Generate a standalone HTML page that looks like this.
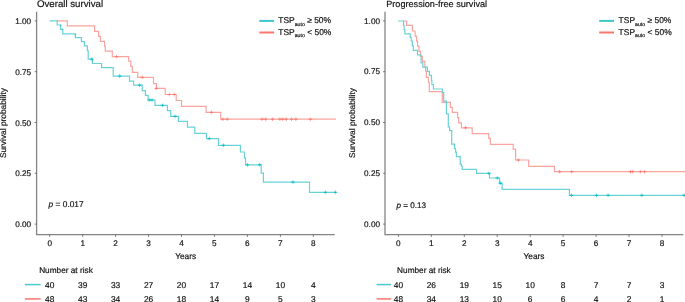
<!DOCTYPE html>
<html><head><meta charset="utf-8"><style>
html,body{margin:0;padding:0;background:#fff;width:685px;height:302px;overflow:hidden}
svg{display:block;will-change:transform}
text{text-rendering:geometricPrecision;font-family:"Liberation Sans", sans-serif;fill:#111;stroke:#111;stroke-width:0.18px}
</style></head><body>
<svg width="685" height="302" viewBox="0 0 685 302">
<path d="M56.6,20.9 H67.3 V25.8 H94.6 V31.3 H98.6 V36.4 H100.4 V41.3 H104.6 V46.4 H105.3 V51.2 H112.3 V56.7 H128.7 V61.2 H130.8 V66.3 H132.3 V72.3 H137.7 V77.3 H153.5 V83.6 H156.4 V88.4 H165.2 V94.5 H176.2 V100.5 H181.5 V106.3 H206.1 V112.3 H220.7 V119.2 H335.9" fill="none" stroke="#f9a59f" stroke-width="1.2"/>
<path d="M49.5,20.9 H57.2 V25.0 H60.5 V29.4 H62.8 V33.8 H75.4 V37.7 H81.4 V41.6 H84.4 V45.9 H87.4 V50.6 H88.2 V59.2 H92.4 V63.5 H101.6 V67.6 H113.2 V76.1 H129.5 V81.2 H133.6 V85.2 H142.2 V90.7 H145.4 V95.4 H148.1 V100.0 H155.0 V105.3 H167.4 V110.6 H170.7 V116.4 H178.4 V121.3 H187.5 V127.2 H194.8 V133.4 H206.4 V138.6 H218.5 V145.3 H240.4 V152.0 H244.5 V158.2 H245.5 V164.8 H261.2 V173.2 H263.4 V182.1 H309.5 V192.3 H335.5" fill="none" stroke="#6ad2d6" stroke-width="1.2"/>
<path d="M403.0,21.0 H406.6 V25.4 H412.4 V31.0 H415.1 V36.1 H416.6 V41.2 H417.6 V46.2 H419.0 V51.4 H420.4 V56.4 H422.3 V61.4 H424.9 V67.0 H425.6 V71.4 H426.4 V77.3 H428.5 V82.5 H429.3 V91.6 H442.3 V102.3 H450.4 V107.4 H452.3 V112.4 H457.6 V117.6 H458.7 V122.8 H461.4 V127.8 H472.2 V133.6 H488.7 V138.4 H490.3 V144.3 H513.2 V149.2 H515.6 V160.0 H528.7 V166.4 H554.5 V171.7 H686" fill="none" stroke="#f9a59f" stroke-width="1.2"/>
<path d="M398.0,21.0 H403.6 V25.3 H404.1 V29.6 H404.9 V33.9 H410.2 V37.3 H411.2 V41.0 H412.3 V45.8 H413.3 V50.3 H417.5 V54.8 H421.1 V62.8 H422.8 V67.2 H427.4 V71.4 H429.4 V75.4 H431.5 V80.4 H431.9 V84.5 H433.4 V89.0 H442.4 V92.4 H443.7 V101.2 H446.4 V113.9 H448.3 V126.9 H449.6 V130.6 H451.7 V144.1 H454.4 V148.3 H455.5 V152.2 H456.4 V156.7 H460.2 V164.2 H461.3 V166.2 H462.2 V169.3 H476.6 V173.3 H489.5 V178.0 H499.6 V183.2 H502.1 V189.3 H569.4 V195.3 H686" fill="none" stroke="#6ad2d6" stroke-width="1.2"/>
<path d="M90.1,59.2h3.6M117.9,76.1h3.6M137.8,85.2h3.6M147.5,100.0h3.6M150.2,100.0h3.6M160.7,105.3h3.6M173.3,116.4h3.6M207.5,138.6h3.6M221.6,145.3h3.6M245.7,164.8h3.6M257.8,164.8h3.6M291.2,182.1h3.6M323.6,192.3h3.6M333.6,192.3h3.6" fill="none" stroke="#00BFC4" stroke-width="0.95"/>
<path d="M91.9,57.4v3.6M119.7,74.3v3.6M139.6,83.4v3.6M149.3,98.2v3.6M152.0,98.2v3.6M162.5,103.5v3.6M175.1,114.6v3.6M209.3,136.8v3.6M223.4,143.5v3.6M247.5,163.0v3.6M259.6,163.0v3.6M293.0,180.3v3.6M325.4,190.5v3.6M335.4,190.5v3.6" fill="none" stroke="#00BFC4" stroke-width="0.75" stroke-opacity="0.85"/>
<path d="M114.7,56.7h3.6M140.4,77.3h3.6M154.5,88.4h3.6M167.6,94.5h3.6M172.4,94.5h3.6M209.6,112.3h3.6M221.1,119.2h3.6M225.5,119.2h3.6M260.3,119.2h3.6M263.9,119.2h3.6M270.7,119.2h3.6M278.1,119.2h3.6M280.8,119.2h3.6M284.4,119.2h3.6M289.7,119.2h3.6M294.1,119.2h3.6M308.6,119.2h3.6" fill="none" stroke="#F8766D" stroke-width="0.95"/>
<path d="M116.5,54.9v3.6M142.2,75.5v3.6M156.3,86.6v3.6M169.4,92.7v3.6M174.2,92.7v3.6M211.4,110.5v3.6M222.9,117.4v3.6M227.3,117.4v3.6M262.1,117.4v3.6M265.7,117.4v3.6M272.5,117.4v3.6M279.9,117.4v3.6M282.6,117.4v3.6M286.2,117.4v3.6M291.5,117.4v3.6M295.9,117.4v3.6M310.4,117.4v3.6" fill="none" stroke="#F8766D" stroke-width="0.75" stroke-opacity="0.85"/>
<path d="M487.1,173.3h3.6M495.5,178.0h3.6M498.5,183.2h3.6M569.7,195.3h3.6M594.7,195.3h3.6M606.3,195.3h3.6M640.0,195.3h3.6M682.2,195.3h3.6" fill="none" stroke="#00BFC4" stroke-width="0.95"/>
<path d="M488.9,171.5v3.6M497.3,176.2v3.6M500.3,181.4v3.6M571.5,193.5v3.6M596.5,193.5v3.6M608.1,193.5v3.6M641.8,193.5v3.6M684.0,193.5v3.6" fill="none" stroke="#00BFC4" stroke-width="0.75" stroke-opacity="0.85"/>
<path d="M463.7,127.8h3.6M516.6,160.0h3.6M557.8,171.7h3.6M569.9,171.7h3.6M628.7,171.7h3.6M630.9,171.7h3.6M638.6,171.7h3.6M642.8,171.7h3.6" fill="none" stroke="#F8766D" stroke-width="0.95"/>
<path d="M465.5,126.0v3.6M518.4,158.2v3.6M559.6,169.9v3.6M571.7,169.9v3.6M630.5,169.9v3.6M632.7,169.9v3.6M640.4,169.9v3.6M644.6,169.9v3.6" fill="none" stroke="#F8766D" stroke-width="0.75" stroke-opacity="0.85"/>
<rect x="60.0" y="24.7" width="1.8" height="1.2" fill="#00BFC4" fill-opacity="0.55"/>
<rect x="61.4" y="28.9" width="1.8" height="1.2" fill="#00BFC4" fill-opacity="0.55"/>
<rect x="74.6" y="34.3" width="1.8" height="1.2" fill="#00BFC4" fill-opacity="0.55"/>
<path d="M36.6,11.8V234.65H334.8" fill="none" stroke="#858585" stroke-width="1.3"/>
<path d="M34.70,224.1H36.6M34.70,173.3H36.6M34.70,122.5H36.6M34.70,71.7H36.6M34.70,20.9H36.6M49.7,234.65V236.85M82.7,234.65V236.85M115.6,234.65V236.85M148.6,234.65V236.85M181.5,234.65V236.85M214.4,234.65V236.85M247.4,234.65V236.85M280.4,234.65V236.85M313.3,234.65V236.85" fill="none" stroke="#5a5a5a" stroke-width="0.8"/>
<text x="31.1" y="227.0" text-anchor="end" font-size="8.2">0.00</text>
<text x="31.1" y="176.2" text-anchor="end" font-size="8.2">0.25</text>
<text x="31.1" y="125.5" text-anchor="end" font-size="8.2">0.50</text>
<text x="31.1" y="74.7" text-anchor="end" font-size="8.2">0.75</text>
<text x="31.1" y="23.9" text-anchor="end" font-size="8.2">1.00</text>
<text x="49.7" y="245.5" text-anchor="middle" font-size="8.2">0</text>
<text x="82.7" y="245.5" text-anchor="middle" font-size="8.2">1</text>
<text x="115.6" y="245.5" text-anchor="middle" font-size="8.2">2</text>
<text x="148.6" y="245.5" text-anchor="middle" font-size="8.2">3</text>
<text x="181.5" y="245.5" text-anchor="middle" font-size="8.2">4</text>
<text x="214.4" y="245.5" text-anchor="middle" font-size="8.2">5</text>
<text x="247.4" y="245.5" text-anchor="middle" font-size="8.2">6</text>
<text x="280.4" y="245.5" text-anchor="middle" font-size="8.2">7</text>
<text x="313.3" y="245.5" text-anchor="middle" font-size="8.2">8</text>
<text x="185.7" y="258.8" text-anchor="middle" font-size="8.3">Years</text>
<path d="M385.0,11.8V234.65H683.4" fill="none" stroke="#858585" stroke-width="1.3"/>
<path d="M383.10,224.1H385.0M383.10,173.3H385.0M383.10,122.5H385.0M383.10,71.7H385.0M383.10,20.9H385.0M398.4,234.65V236.85M431.3,234.65V236.85M464.3,234.65V236.85M497.2,234.65V236.85M530.2,234.65V236.85M563.1,234.65V236.85M596.1,234.65V236.85M629.0,234.65V236.85M662.0,234.65V236.85" fill="none" stroke="#5a5a5a" stroke-width="0.8"/>
<text x="380.0" y="226.7" text-anchor="end" font-size="8.2">0.00</text>
<text x="380.0" y="175.9" text-anchor="end" font-size="8.2">0.25</text>
<text x="380.0" y="125.1" text-anchor="end" font-size="8.2">0.50</text>
<text x="380.0" y="74.3" text-anchor="end" font-size="8.2">0.75</text>
<text x="380.0" y="23.5" text-anchor="end" font-size="8.2">1.00</text>
<text x="398.4" y="245.5" text-anchor="middle" font-size="8.2">0</text>
<text x="431.3" y="245.5" text-anchor="middle" font-size="8.2">1</text>
<text x="464.3" y="245.5" text-anchor="middle" font-size="8.2">2</text>
<text x="497.2" y="245.5" text-anchor="middle" font-size="8.2">3</text>
<text x="530.2" y="245.5" text-anchor="middle" font-size="8.2">4</text>
<text x="563.1" y="245.5" text-anchor="middle" font-size="8.2">5</text>
<text x="596.1" y="245.5" text-anchor="middle" font-size="8.2">6</text>
<text x="629.0" y="245.5" text-anchor="middle" font-size="8.2">7</text>
<text x="662.0" y="245.5" text-anchor="middle" font-size="8.2">8</text>
<text x="534.0" y="258.8" text-anchor="middle" font-size="8.3">Years</text>
<text transform="translate(6.4,123.1) rotate(-90)" text-anchor="middle" font-size="8.35">Survival probability</text>
<text transform="translate(355.1,123.1) rotate(-90)" text-anchor="middle" font-size="8.35">Survival probability</text>
<text x="36.9" y="7.0" font-size="9.7">Overall survival</text>
<text x="386.2" y="6.9" font-size="9.13">Progression-free survival</text>
<line x1="259.3" y1="20.9" x2="274.1" y2="20.9" stroke="#3cc8cc" stroke-width="2.0"/>
<text x="278.3" y="23.1" font-size="8.45">TSP<tspan font-size="5.2" dy="2.6">auto</tspan><tspan dy="-2.6"> ≥ 50%</tspan></text>
<line x1="259.3" y1="32.5" x2="274.1" y2="32.5" stroke="#f8766d" stroke-width="2.0"/>
<text x="278.3" y="34.8" font-size="8.45">TSP<tspan font-size="5.2" dy="2.6">auto</tspan><tspan dy="-2.6"> &lt; 50%</tspan></text>
<line x1="599.2" y1="20.9" x2="614.0" y2="20.9" stroke="#3cc8cc" stroke-width="2.0"/>
<text x="618.6" y="23.1" font-size="8.45">TSP<tspan font-size="5.2" dy="2.6">auto</tspan><tspan dy="-2.6"> ≥ 50%</tspan></text>
<line x1="599.2" y1="32.5" x2="614.0" y2="32.5" stroke="#f8766d" stroke-width="2.0"/>
<text x="618.6" y="34.8" font-size="8.45">TSP<tspan font-size="5.2" dy="2.6">auto</tspan><tspan dy="-2.6"> &lt; 50%</tspan></text>
<text x="48.6" y="206.7" font-size="8.35"><tspan font-style="italic">p</tspan> = 0.017</text>
<text x="396.5" y="207.5" font-size="8.15"><tspan font-style="italic">p</tspan> = 0.13</text>
<text x="39.15" y="272.9" font-size="8.25">Number at risk</text>
<line x1="24.9" y1="284.6" x2="40.6" y2="284.6" stroke="#4ccbcf" stroke-width="1.5"/>
<text x="49.7" y="287.8" text-anchor="middle" font-size="8.4">40</text>
<text x="82.7" y="287.8" text-anchor="middle" font-size="8.4">39</text>
<text x="115.6" y="287.8" text-anchor="middle" font-size="8.4">33</text>
<text x="148.6" y="287.8" text-anchor="middle" font-size="8.4">27</text>
<text x="181.5" y="287.8" text-anchor="middle" font-size="8.4">20</text>
<text x="214.4" y="287.8" text-anchor="middle" font-size="8.4">17</text>
<text x="247.4" y="287.8" text-anchor="middle" font-size="8.4">14</text>
<text x="280.4" y="287.8" text-anchor="middle" font-size="8.4">10</text>
<text x="313.3" y="287.8" text-anchor="middle" font-size="8.4">4</text>
<line x1="24.9" y1="298.9" x2="40.6" y2="298.9" stroke="#f8766d" stroke-width="1.5"/>
<text x="49.7" y="301.7" text-anchor="middle" font-size="8.4">48</text>
<text x="82.7" y="301.7" text-anchor="middle" font-size="8.4">43</text>
<text x="115.6" y="301.7" text-anchor="middle" font-size="8.4">34</text>
<text x="148.6" y="301.7" text-anchor="middle" font-size="8.4">26</text>
<text x="181.5" y="301.7" text-anchor="middle" font-size="8.4">18</text>
<text x="214.4" y="301.7" text-anchor="middle" font-size="8.4">14</text>
<text x="247.4" y="301.7" text-anchor="middle" font-size="8.4">9</text>
<text x="280.4" y="301.7" text-anchor="middle" font-size="8.4">5</text>
<text x="313.3" y="301.7" text-anchor="middle" font-size="8.4">3</text>
<text x="397.1" y="272.9" font-size="8.25">Number at risk</text>
<line x1="376.6" y1="284.6" x2="391.2" y2="284.6" stroke="#4ccbcf" stroke-width="1.5"/>
<text x="398.4" y="287.8" text-anchor="middle" font-size="8.4">40</text>
<text x="431.3" y="287.8" text-anchor="middle" font-size="8.4">26</text>
<text x="464.3" y="287.8" text-anchor="middle" font-size="8.4">19</text>
<text x="497.2" y="287.8" text-anchor="middle" font-size="8.4">15</text>
<text x="530.2" y="287.8" text-anchor="middle" font-size="8.4">10</text>
<text x="563.1" y="287.8" text-anchor="middle" font-size="8.4">8</text>
<text x="596.1" y="287.8" text-anchor="middle" font-size="8.4">7</text>
<text x="629.0" y="287.8" text-anchor="middle" font-size="8.4">7</text>
<text x="662.0" y="287.8" text-anchor="middle" font-size="8.4">3</text>
<line x1="376.6" y1="298.9" x2="391.2" y2="298.9" stroke="#f8766d" stroke-width="1.5"/>
<text x="398.4" y="301.7" text-anchor="middle" font-size="8.4">48</text>
<text x="431.3" y="301.7" text-anchor="middle" font-size="8.4">34</text>
<text x="464.3" y="301.7" text-anchor="middle" font-size="8.4">13</text>
<text x="497.2" y="301.7" text-anchor="middle" font-size="8.4">10</text>
<text x="530.2" y="301.7" text-anchor="middle" font-size="8.4">6</text>
<text x="563.1" y="301.7" text-anchor="middle" font-size="8.4">6</text>
<text x="596.1" y="301.7" text-anchor="middle" font-size="8.4">4</text>
<text x="629.0" y="301.7" text-anchor="middle" font-size="8.4">2</text>
<text x="662.0" y="301.7" text-anchor="middle" font-size="8.4">1</text>
</svg>
</body></html>
